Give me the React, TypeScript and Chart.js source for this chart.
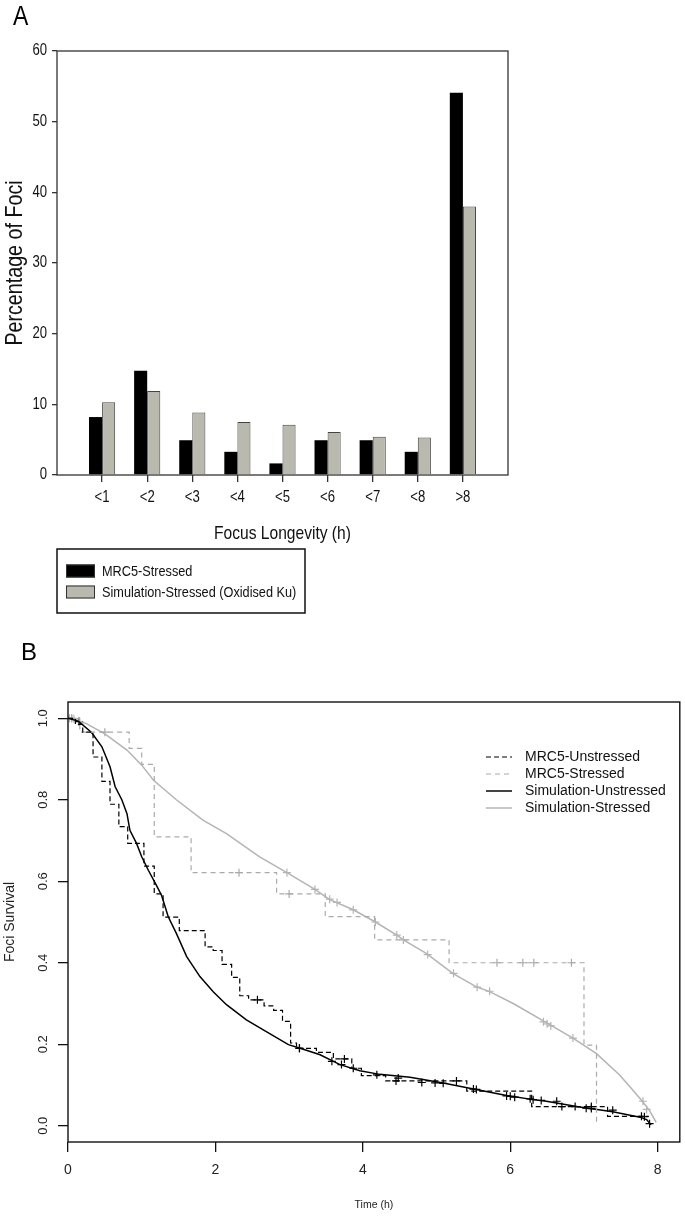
import React, { useEffect, useRef } from 'react';
import { Chart, registerables } from 'chart.js';

Chart.register(...registerables);

const SANS = "'Liberation Sans', Arial, sans-serif";
const NARROW_SCALE = 0.82; // emulate Arial Narrow by horizontal compression

// ---------- Panel A data ----------
const longevityCategories = ['<1', '<2', '<3', '<4', '<5', '<6', '<7', '<8', '>8'];
const mrc5StressedPct = [8.2, 14.75, 4.92, 3.28, 1.64, 4.92, 4.92, 3.28, 54.1];
const simStressedPct = [10.3, 11.9, 8.85, 7.5, 7.1, 6.1, 5.4, 5.3, 38.0];
const percentTicks = [0, 10, 20, 30, 40, 50, 60];

// ---------- Panel B data ----------
const mrc5UnstressedTime = [0, 0.1, 0.2, 0.34, 0.46, 0.57, 0.69, 0.81, 1.03, 1.17, 1.29, 1.51, 1.86, 1.97, 2.09, 2.22, 2.33, 2.45, 2.66, 2.79, 2.91, 3.02, 3.1, 3.37, 3.6, 3.85, 3.98, 4.31, 5.41, 6.29, 7.32, 7.88];
const mrc5UnstressedSurv = [1, 0.985, 0.966, 0.905, 0.845, 0.789, 0.734, 0.693, 0.637, 0.569, 0.512, 0.479, 0.439, 0.43, 0.396, 0.364, 0.319, 0.309, 0.294, 0.283, 0.256, 0.203, 0.19, 0.18, 0.164, 0.141, 0.123, 0.11, 0.085, 0.047, 0.023, 0.023];
const mrc5UnstressedCensorTime = [2.57, 3.14, 3.75, 4.45, 5.27, 6.7, 7.1];
const mrc5UnstressedCensorSurv = [0.309, 0.19, 0.164, 0.11, 0.11, 0.047, 0.047];

const mrc5StressedTime = [0, 0.16, 0.83, 1.0, 1.17, 1.67, 2.83, 3.49, 4.16, 5.17, 7.0, 7.17];
const mrc5StressedSurv = [1, 0.966, 0.926, 0.887, 0.709, 0.621, 0.569, 0.513, 0.456, 0.4, 0.198, 0.005];
const mrc5StressedCensorTime = [0.05, 0.5, 2.32, 3.0, 5.82, 6.17, 6.32, 6.83];
const mrc5StressedCensorSurv = [1, 0.966, 0.621, 0.569, 0.4, 0.4, 0.4, 0.4];

const simUnstressedTime = [0, 0.14, 0.32, 0.46, 0.57, 0.64, 0.73, 0.8, 0.84, 0.93, 1.0, 1.09, 1.2, 1.27, 1.36, 1.47, 1.61, 1.79, 1.97, 2.15, 2.42, 2.69, 2.99, 3.15, 3.42, 3.69, 3.96, 4.23, 4.64, 5.09, 5.45, 5.95, 6.31, 6.49, 6.94, 7.39, 7.76, 7.85, 7.91];
const simUnstressedSurv = [1, 0.993, 0.965, 0.93, 0.881, 0.832, 0.8, 0.766, 0.725, 0.693, 0.66, 0.627, 0.59, 0.565, 0.513, 0.472, 0.415, 0.366, 0.329, 0.297, 0.26, 0.231, 0.199, 0.19, 0.174, 0.15, 0.135, 0.126, 0.119, 0.105, 0.092, 0.074, 0.064, 0.06, 0.046, 0.034, 0.021, 0.015, 0.002];
const simUnstressedCensorTime = [0.15, 3.14, 3.58, 3.71, 3.87, 4.19, 4.48, 4.8, 4.98, 5.09, 5.5, 5.54, 5.95, 6.0, 6.06, 6.27, 6.31, 6.42, 6.63, 6.88, 7.03, 7.1, 7.39, 7.78, 7.82, 7.89];
const simUnstressedCensorSurv = [0.992, 0.19, 0.158, 0.15, 0.141, 0.125, 0.117, 0.106, 0.105, 0.104, 0.09, 0.089, 0.073, 0.072, 0.07, 0.066, 0.064, 0.062, 0.06, 0.047, 0.043, 0.042, 0.038, 0.023, 0.022, 0.005];

const simStressedTime = [0, 0.1, 0.25, 0.5, 0.8, 1.0, 1.16, 1.47, 1.83, 2.15, 2.6, 2.97, 3.35, 3.55, 3.87, 4.17, 4.46, 4.55, 4.86, 5.22, 5.54, 5.72, 6.04, 6.49, 6.85, 7.17, 7.48, 7.65, 7.8, 7.89, 7.98];
const simStressedSurv = [1, 0.997, 0.987, 0.962, 0.922, 0.885, 0.848, 0.8, 0.75, 0.717, 0.66, 0.621, 0.58, 0.555, 0.53, 0.5, 0.468, 0.456, 0.423, 0.374, 0.341, 0.329, 0.3, 0.253, 0.215, 0.177, 0.125, 0.09, 0.058, 0.037, 0.008];
const simStressedCensorTime = [0.02, 0.05, 0.08, 2.97, 3.35, 3.55, 3.65, 3.87, 4.17, 4.46, 4.55, 4.88, 5.23, 5.55, 5.72, 6.45, 6.5, 6.55, 6.85, 7.8, 7.85];
const simStressedCensorSurv = [1, 1, 0.999, 0.621, 0.58, 0.556, 0.548, 0.53, 0.5, 0.468, 0.456, 0.42, 0.374, 0.34, 0.33, 0.255, 0.25, 0.245, 0.215, 0.06, 0.04];

const timeTicks = [0, 2, 4, 6, 8];
const survivalTicks = [0, 0.2, 0.4, 0.6, 0.8, 1.0];

const zip = (xs: number[], ys: number[]) => xs.map((x, i) => ({ x, y: ys[i] }));

const BLACK_BAR = '#000000';
const GRAY_BAR = '#b9b9ad';
const CURVE_GRAY = '#b4b4b4';

function narrowText(
  ctx: CanvasRenderingContext2D,
  text: string,
  x: number,
  y: number,
  size: number,
  align: CanvasTextAlign,
  baseline: CanvasTextBaseline,
  rotate = 0,
) {
  ctx.save();
  ctx.translate(x, y);
  if (rotate) ctx.rotate(rotate);
  ctx.scale(NARROW_SCALE, 1);
  ctx.font = `${size}px ${SANS}`;
  ctx.textAlign = align;
  ctx.textBaseline = baseline;
  ctx.fillText(text, 0, 0);
  ctx.restore();
}

const panelAPlugin = {
  id: 'panelADecor',
  afterDraw(chart: any) {
    const { ctx, chartArea: a, scales } = chart;
    ctx.save();
    ctx.strokeStyle = '#333';
    ctx.lineWidth = 1.3;
    ctx.strokeRect(a.left, a.top, a.right - a.left, a.bottom - a.top);

    ctx.fillStyle = '#111';
    percentTicks.forEach((v) => {
      narrowText(ctx, String(v), 47, scales.y.getPixelForValue(v), 16, 'right', 'middle');
    });
    (chart.data.labels as string[]).forEach((lab: string, i: number) => {
      if (!lab) return;
      narrowText(ctx, lab, scales.x.getPixelForTick(i), 498, 16, 'center', 'middle');
    });
    narrowText(ctx, scales.x.options.title.text, (a.left + a.right) / 2, 534, 19, 'center', 'middle');
    narrowText(ctx, scales.y.options.title.text, 15, (a.top + a.bottom) / 2, 24, 'center', 'middle', -Math.PI / 2);

    ctx.fillStyle = '#000';
    narrowText(ctx, 'A', 13, 25, 28, 'left', 'alphabetic');

    // legend box
    ctx.lineWidth = 1.5;
    ctx.strokeStyle = '#111';
    ctx.strokeRect(57, 549, 248, 64);
    const rows = [571, 592];
    chart.data.datasets.forEach((ds: any, i: number) => {
      const cy = rows[i];
      ctx.fillStyle = ds.backgroundColor;
      ctx.fillRect(66, cy - 6.5, 29, 13);
      ctx.lineWidth = 1;
      ctx.strokeStyle = '#333';
      ctx.strokeRect(66.5, cy - 6, 28, 12);
      ctx.fillStyle = '#111';
      narrowText(ctx, ds.label, 102, cy + 0.5, 15.5, 'left', 'middle');
    });
    ctx.restore();
  },
};

const panelBPlugin = {
  id: 'panelBDecor',
  afterDraw(chart: any) {
    const { ctx, chartArea: a, scales } = chart;
    ctx.save();
    ctx.strokeStyle = '#111';
    ctx.lineWidth = 1.4;
    ctx.strokeRect(a.left, a.top, a.right - a.left, a.bottom - a.top);

    ctx.fillStyle = '#222';
    ctx.font = `13px ${SANS}`;
    ctx.textAlign = 'center';
    ctx.textBaseline = 'middle';
    survivalTicks.forEach((v) => {
      const y = scales.y.getPixelForValue(v);
      ctx.save();
      ctx.translate(43, y);
      ctx.rotate(-Math.PI / 2);
      ctx.fillText(v.toFixed(1), 0, 0);
      ctx.restore();
    });

    ctx.fillStyle = '#000';
    ctx.textAlign = 'left';
    ctx.textBaseline = 'alphabetic';
    ctx.font = `24px ${SANS}`;
    ctx.fillText('B', 21, 20);

    const rows = [117, 134, 151, 168];
    const legendSets = chart.data.datasets.filter((d: any) => d.label);
    legendSets.forEach((ds: any, i: number) => {
      const y = rows[i];
      ctx.save();
      ctx.strokeStyle = ds.legendColor || ds.borderColor;
      ctx.lineWidth = ds.legendWidth || ds.borderWidth;
      ctx.setLineDash(ds.borderDash || []);
      ctx.beginPath();
      ctx.moveTo(486, y);
      ctx.lineTo(512, y);
      ctx.stroke();
      ctx.restore();
      ctx.fillStyle = '#111';
      ctx.font = `14px ${SANS}`;
      ctx.textBaseline = 'middle';
      ctx.fillText(ds.label, 525, y);
    });
    ctx.restore();
  },
};

function PanelA() {
  const ref = useRef<HTMLCanvasElement>(null);
  useEffect(() => {
    if (!ref.current) return;
    const labels = ['', ...longevityCategories, ''];
    const pad = (arr: number[]) => [null, ...arr, null];
    const chart = new Chart(ref.current, {
      type: 'bar',
      data: {
        labels,
        datasets: [
          {
            label: 'MRC5-Stressed',
            data: pad(mrc5StressedPct),
            backgroundColor: BLACK_BAR,
            borderColor: '#000',
            borderWidth: 0,
            categoryPercentage: 0.58,
            barPercentage: 1,
          },
          {
            label: 'Simulation-Stressed (Oxidised Ku)',
            data: pad(simStressedPct),
            backgroundColor: GRAY_BAR,
            borderColor: '#444',
            borderWidth: 1,
            categoryPercentage: 0.58,
            barPercentage: 1,
          },
        ] as any,
      },
      options: {
        responsive: false,
        animation: false,
        layout: { padding: { left: 0, top: 51, right: 177, bottom: 94.6 } },
        plugins: { legend: { display: false }, tooltip: { enabled: false } },
        scales: {
          x: {
            type: 'category',
            offset: false,
            grid: {
              offset: false,
              drawOnChartArea: false,
              tickLength: 7,
              lineWidth: 1.3,
              tickColor: (c: any) => (c.index === 0 || c.index === labels.length - 1 ? 'rgba(0,0,0,0)' : '#333'),
            } as any,
            border: { display: false },
            ticks: { font: { family: SANS, size: 15 }, color: 'rgba(0,0,0,0)', padding: 7, autoSkip: false, maxRotation: 0, minRotation: 0 },
            title: { display: false, text: 'Focus Longevity (h)' },
            afterFit: (s: any) => { s.height = 70.4; },
          } as any,
          y: {
            min: 0,
            max: 60,
            afterBuildTicks: (s: any) => { s.ticks = percentTicks.map((v) => ({ value: v })); },
            grid: { drawOnChartArea: false, tickLength: 5, lineWidth: 1.3, tickColor: '#333' },
            border: { display: false },
            ticks: { font: { family: SANS, size: 15 }, color: 'rgba(0,0,0,0)', padding: 5 },
            title: { display: false, text: 'Percentage of Foci' },
            afterFit: (s: any) => { s.width = 57; },
          } as any,
        },
      },
      plugins: [panelAPlugin],
    });
    return () => chart.destroy();
  }, []);
  return <canvas ref={ref} width={685} height={640} style={{ position: 'absolute', left: 0, top: 0, display: 'block' }} />;
}

function PanelB() {
  const ref = useRef<HTMLCanvasElement>(null);
  useEffect(() => {
    if (!ref.current) return;
    const censor = (xs: number[], ys: number[], color: string) => ({
      type: 'scatter',
      label: '',
      data: zip(xs, ys),
      showLine: false,
      pointStyle: 'cross',
      pointRadius: 4,
      pointBorderWidth: 1.2,
      borderColor: color,
      backgroundColor: color,
    });
    const chart = new Chart(ref.current, {
      type: 'line',
      data: {
        datasets: [
          {
            label: 'MRC5-Unstressed',
            data: zip(mrc5UnstressedTime, mrc5UnstressedSurv),
            borderColor: '#000',
            borderWidth: 1.2,
            borderDash: [5, 3],
            stepped: true,
            pointRadius: 0,
          },
          {
            label: 'MRC5-Stressed',
            data: zip(mrc5StressedTime, mrc5StressedSurv),
            borderColor: '#aaaaaa',
            borderWidth: 1.2,
            borderDash: [5, 4],
            stepped: true,
            pointRadius: 0,
          },
          {
            label: 'Simulation-Unstressed',
            data: zip(simUnstressedTime, simUnstressedSurv),
            borderColor: '#000',
            legendColor: '#444',
            legendWidth: 2,
            borderWidth: 1.5,
            pointRadius: 0,
          },
          {
            label: 'Simulation-Stressed',
            data: zip(simStressedTime, simStressedSurv),
            borderColor: CURVE_GRAY,
            borderWidth: 1.5,
            pointRadius: 0,
          },
          censor(mrc5UnstressedCensorTime, mrc5UnstressedCensorSurv, '#000'),
          censor(simUnstressedCensorTime, simUnstressedCensorSurv, '#000'),
          censor(mrc5StressedCensorTime, mrc5StressedCensorSurv, '#aaaaaa'),
          censor(simStressedCensorTime, simStressedCensorSurv, CURVE_GRAY),
        ] as any,
      },
      options: {
        responsive: false,
        animation: false,
        layout: { padding: { left: 0, top: 62, right: 5, bottom: 5.8 } },
        plugins: { legend: { display: false }, tooltip: { enabled: false } },
        scales: {
          x: {
            type: 'linear',
            min: 0,
            max: 8.3,
            afterBuildTicks: (s: any) => { s.ticks = timeTicks.map((v) => ({ value: v })); },
            grid: { drawOnChartArea: false, tickLength: 10, lineWidth: 1.3, tickColor: '#111' },
            border: { display: false },
            ticks: { font: { family: SANS, size: 14 }, color: '#222', padding: 10, maxRotation: 0, minRotation: 0 },
            title: { display: true, text: 'Time (h)', font: { family: SANS, size: 10.5 }, color: '#222', padding: { top: 0, bottom: 0 } },
            afterFit: (s: any) => { s.height = 69.2; },
          } as any,
          y: {
            type: 'linear',
            min: -0.04,
            max: 1.04,
            afterBuildTicks: (s: any) => { s.ticks = survivalTicks.map((v) => ({ value: v })); },
            grid: { drawOnChartArea: false, tickLength: 10, lineWidth: 1.3, tickColor: '#111' },
            border: { display: false },
            ticks: { color: 'rgba(0,0,0,0)', font: { family: SANS, size: 13 } },
            title: { display: true, text: 'Foci Survival', font: { family: SANS, size: 14 }, color: '#222', padding: { top: 1.6, bottom: 0 } },
            afterFit: (s: any) => { s.width = 68; },
          } as any,
        },
      },
      plugins: [panelBPlugin],
    });
    return () => chart.destroy();
  }, []);
  return <canvas ref={ref} width={685} height={577} style={{ position: 'absolute', left: 0, top: 640, display: 'block' }} />;
}

export default function App() {
  return (
    <div style={{ position: 'absolute', left: 0, top: 0, width: 685, height: 1217, background: '#fff', overflow: 'hidden' }}>
      <PanelA />
      <PanelB />
    </div>
  );
}
